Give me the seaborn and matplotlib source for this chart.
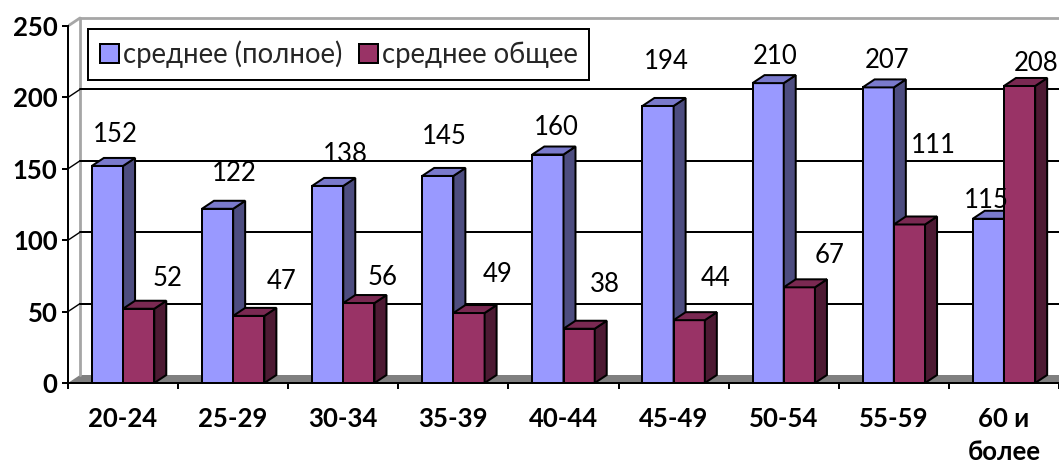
import matplotlib
matplotlib.use('Agg')
import matplotlib.pyplot as plt
from matplotlib.patches import Polygon
import pandas as pd
import seaborn as sns

groups = ['20-24', '25-29', '30-34', '35-39', '40-44', '45-49', '50-54', '55-59', '60 и\nболее']
series_names = ['среднее (полное)', 'среднее общее']
full_values = [152, 122, 138, 145, 160, 194, 210, 207, 115]
total_values = [52, 47, 56, 49, 38, 44, 67, 111, 208]
y_ticks = [0, 50, 100, 150, 200, 250]

# hand placed data labels in the original, pixel shift from the bar top centre
full_label_shift = [(8, 31), (17, 35), (18, 31), (7, 39), (8, 27), (8, 44), (7, 27), (9, 27), (-2, 18)]
total_label_shift = [(29, 30), (33, 34), (24, 26), (29, 39), (26, 44), (26, 42), (30, 32), (24, 79), (17, 22)]

colors = ['#9999FF', '#993366']
side_colors = ['#4D4D80', '#4D1A33']
top_colors = ['#7A7ACC', '#7A2952']
edge_px = 2 * 72 / 100
px_per_unit = 1.428

sns.set_theme(style='white')
plt.rcParams['font.family'] = ['Lato', 'Open Sans', 'DejaVu Sans']

df = pd.DataFrame({
    'group': groups * 2,
    'series': [series_names[0]] * len(groups) + [series_names[1]] * len(groups),
    'value': full_values + total_values,
})

fig = plt.figure(figsize=(10.59, 4.66), dpi=100)
ax = fig.add_axes([68 / 1059, (466 - 383) / 466, 991 / 1059, 383 / 466])
sns.barplot(data=df, x='group', y='value', hue='series', order=groups, hue_order=series_names,
            palette=colors, saturation=1, width=0.567, gap=0, edgecolor='black',
            linewidth=edge_px, ax=ax)

ax.set_xlim(-0.5, 8.5)
ax.set_ylim(0, 383 / px_per_unit)
# depth of the fake 3d box
dx = 12 / 110.1
dy = 8 / px_per_unit
x0, x1 = ax.get_xlim()

# back wall, floor and grid
ax.add_patch(Polygon([(x0, 0), (x0 + dx, dy), (x1, dy), (x1, 0)], closed=True,
                     facecolor='#808080', edgecolor='none', zorder=1))
ax.plot([x0 + dx, x0 + dx], [dy, 250 + dy], color='#A6A6A6', lw=edge_px * 1.4, zorder=1.5)
ax.plot([x0 + dx, x1], [250 + dy, 250 + dy], color='#A6A6A6', lw=edge_px * 1.4, zorder=1.5)
ax.plot([x0, x0 + dx], [250, 250 + dy], color='#A6A6A6', lw=edge_px * 1.4, zorder=1.5)
for v in y_ticks[1:-1]:
    ax.plot([x0 + dx, x1], [v + dy, v + dy], color='black', lw=edge_px, zorder=2)
    ax.plot([x0, x0 + dx], [v, v + dy], color='black', lw=edge_px * 0.7, zorder=2)

# side and top faces of every bar
for s, container in enumerate(ax.containers):
    for i, bar in enumerate(container):
        z = 3 + i * 0.1 + s * 0.05
        bar.set_zorder(z)
        x = bar.get_x()
        w = bar.get_width()
        h = bar.get_height()
        ax.add_patch(Polygon([(x + w, 0), (x + w + dx, dy), (x + w + dx, h + dy), (x + w, h)], closed=True,
                             facecolor=side_colors[s], edgecolor='black', lw=edge_px, zorder=z))
        ax.add_patch(Polygon([(x, h), (x + dx, h + dy), (x + w + dx, h + dy), (x + w, h)], closed=True,
                             facecolor=top_colors[s], edgecolor='black', lw=edge_px, zorder=z))

# data labels
for container, shifts in zip(ax.containers, [full_label_shift, total_label_shift]):
    for bar, shift in zip(container, shifts):
        ax.annotate(f'{bar.get_height():.0f}', (bar.get_x() + bar.get_width() / 2, bar.get_height()),
                    xytext=shift, textcoords='offset pixels', ha='center', va='center',
                    fontsize=18.5, color='black', zorder=10)

for name in ['top', 'right']:
    ax.spines[name].set_visible(False)
for name in ['left', 'bottom']:
    ax.spines[name].set_color('black')
    ax.spines[name].set_linewidth(edge_px)
    ax.spines[name].set_zorder(8)
ax.spines['left'].set_bounds(0, 250)

ax.set_xlabel('')
ax.set_ylabel('')
ax.set_yticks(y_ticks)
ax.set_xticks(range(len(groups)))
ax.set_xticks([i - 0.5 for i in range(len(groups) + 1)], minor=True)
ax.tick_params(axis='x', which='major', length=0, pad=17, labelsize=18.5, labelcolor='black')
ax.tick_params(axis='x', which='minor', length=4, width=edge_px, color='black', bottom=True)
ax.tick_params(axis='y', length=4, width=edge_px, color='black', left=True, pad=3.5,
               labelsize=18.5, labelcolor='black')
for label in ax.get_xticklabels() + ax.get_yticklabels():
    label.set_fontweight('bold')
    label.set_linespacing(1.45)

handles, labels = ax.get_legend_handles_labels()
leg = ax.legend(handles, labels, loc='upper left', bbox_to_anchor=(88 / 1059, (466 - 29) / 466),
                bbox_transform=fig.transFigure, ncol=2, frameon=True, fancybox=False, framealpha=1,
                edgecolor='black', fontsize=19.8, handlelength=0.72, handleheight=0.72, handletextpad=0.12,
                columnspacing=0.6, borderaxespad=0, borderpad=0.42, title=None)
leg.get_frame().set_linewidth(edge_px)
leg.set_zorder(9)
for patch in leg.get_patches():
    patch.set_edgecolor('black')
    patch.set_linewidth(edge_px)

fig.savefig('out.png', dpi=100)
